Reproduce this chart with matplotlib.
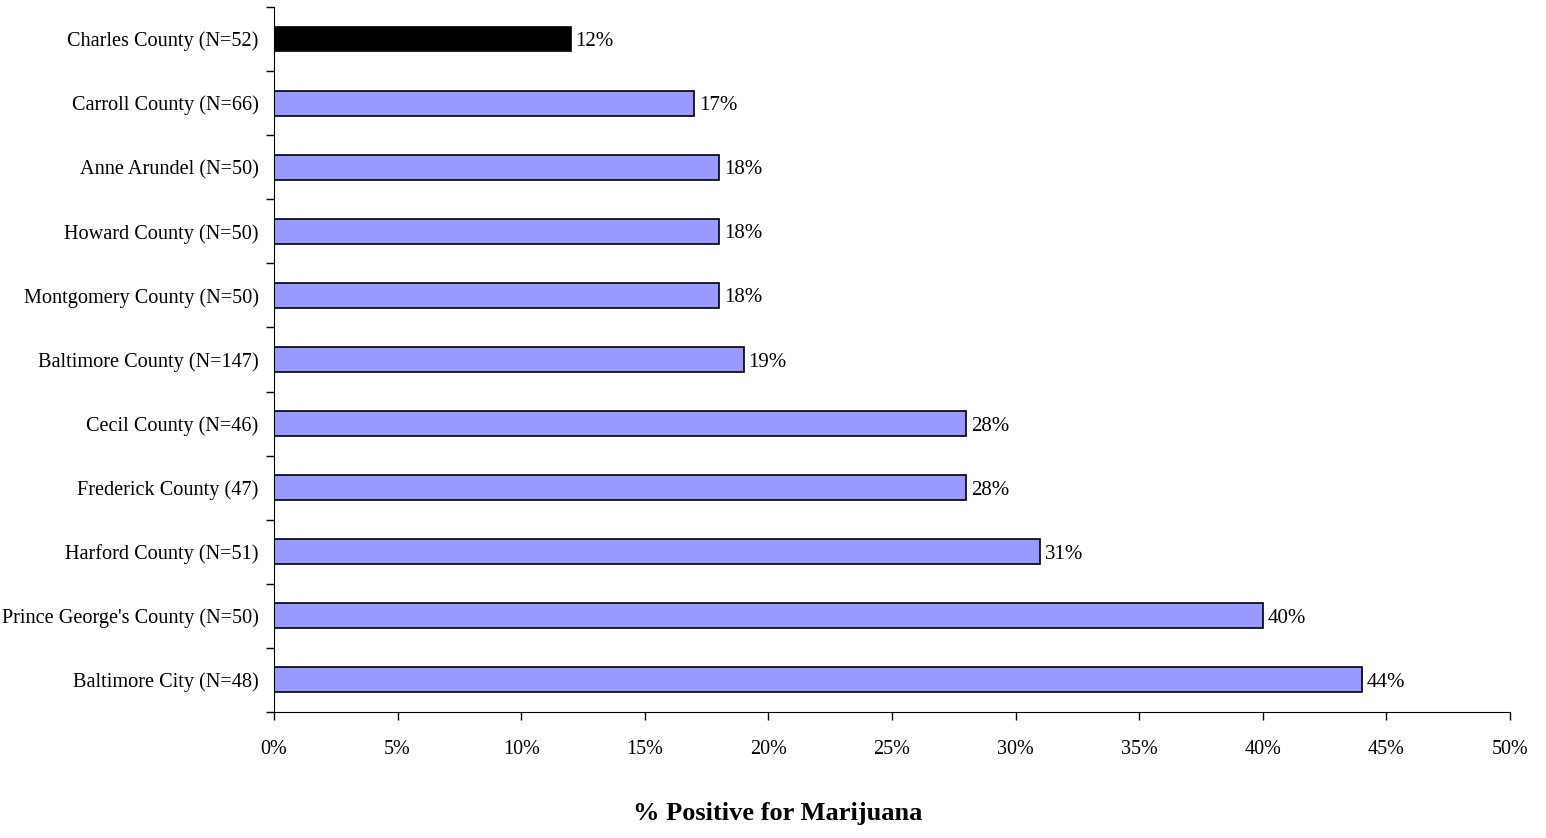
import matplotlib.pyplot as plt
from matplotlib.ticker import FixedLocator, PercentFormatter

plt.rcParams['font.family'] = ['Liberation Serif', 'DejaVu Serif']

counties = ['Baltimore City (N=48)', "Prince George's County (N=50)", 'Harford County (N=51)',
            'Frederick County (47)', 'Cecil County (N=46)', 'Baltimore County (N=147)',
            'Montgomery County (N=50)', 'Howard County (N=50)', 'Anne Arundel (N=50)',
            'Carroll County (N=66)', 'Charles County (N=52)']
pct = [44, 40, 31, 28, 28, 19, 18, 18, 18, 17, 12]
colors = ['#9999ff'] * 10 + ['black']

fig = plt.figure(figsize=(15.46, 8.38), dpi=100)
ax = fig.add_axes([0.1772, 0.1504, 0.7995, 0.8413])

ypos = range(len(counties))
ax.barh(ypos, pct, height=0.39, color=colors, edgecolor='black', linewidth=1.2)
for y, v in zip(ypos, pct):
    ax.text(v + 0.2, y - 0.04, f'{v}%', va='center', ha='left', fontsize=15)

ax.set_xlim(0, 50)
ax.set_ylim(-0.5, len(counties) - 0.5)
ax.set_xticks(range(0, 51, 5))
ax.xaxis.set_major_formatter(PercentFormatter(decimals=0))
ax.set_yticks(list(ypos))
ax.set_yticklabels(counties)
ax.yaxis.set_minor_locator(FixedLocator([i - 0.5 for i in range(len(counties) + 1)]))
ax.tick_params(axis='y', which='major', length=0, pad=11, labelsize=14.6)
ax.tick_params(axis='y', which='minor', length=6, width=1)
ax.tick_params(axis='x', length=6, width=1, pad=14, labelsize=14.5)
for s in ['top', 'right']:
    ax.spines[s].set_visible(False)

fig.text(0.503, 0.015, '% Positive for Marijuana', ha='center', va='bottom',
         fontsize=19, fontweight='bold')

fig.savefig('out.png', dpi=100)
